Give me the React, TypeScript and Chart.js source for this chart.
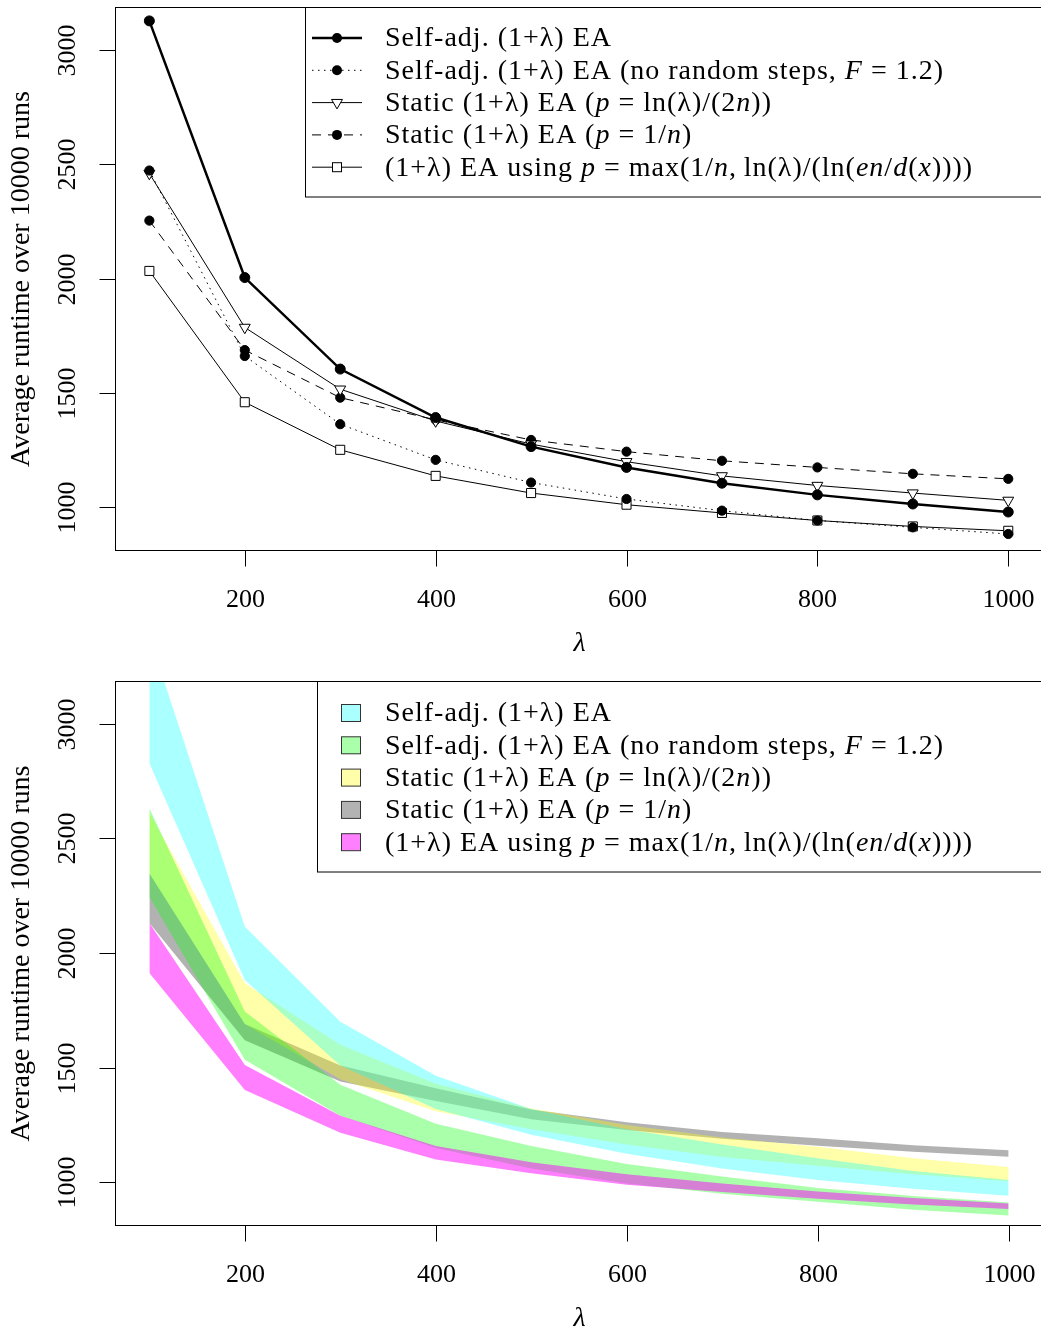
import React, { useEffect, useRef } from "react";
import { Chart, registerables } from "chart.js";
Chart.register(...registerables);

// ---------- data ----------
const lambdas = [100, 200, 300, 400, 500, 600, 700, 800, 900, 1000];

// top chart: averages
const selfAdj = [3127, 2005, 1605, 1393, 1266, 1175, 1106, 1055, 1015, 980];
const selfAdjNoRandom = [2473, 1662, 1364, 1208, 1109, 1037, 986, 943, 913, 884];
const staticLn = [2460, 1787, 1517, 1378, 1277, 1200, 1138, 1096, 1063, 1031];
const staticOneN = [2254, 1688, 1480, 1383, 1295, 1244, 1204, 1175, 1147, 1125];
const maxVariant = [2034, 1460, 1252, 1138, 1063, 1012, 976, 943, 917, 898];

// bottom chart: bands (lower / upper)
const selfAdjLo = [2827, 1882, 1510, 1320, 1208, 1125, 1060, 1010, 972, 942];
const selfAdjHi = [3380, 2114, 1700, 1465, 1320, 1232, 1165, 1105, 1050, 1010];
const noRandomLo = [2244, 1534, 1290, 1150, 1060, 995, 950, 915, 880, 855];
const noRandomHi = [2631, 1745, 1425, 1255, 1158, 1080, 1025, 975, 940, 912];
const staticLnLo = [2348, 1690, 1450, 1310, 1232, 1165, 1110, 1072, 1035, 1005];
const staticLnHi = [2610, 1868, 1600, 1430, 1322, 1250, 1195, 1155, 1105, 1067];
const staticOneNLo = [2131, 1620, 1440, 1355, 1275, 1228, 1190, 1160, 1133, 1112];
const staticOneNHi = [2348, 1690, 1510, 1410, 1318, 1262, 1220, 1192, 1162, 1140];
const maxVariantLo = [1913, 1403, 1216, 1100, 1040, 990, 958, 928, 903, 884];
const maxVariantHi = [2131, 1512, 1290, 1158, 1088, 1035, 995, 960, 932, 908];

const xTicks = [200, 400, 600, 800, 1000];
const yTicks = [1000, 1500, 2000, 2500, 3000];
const X_MIN = 64, X_MAX = 1036, Y_MIN = 814, Y_MAX = 3186;

const yTitle = "Average runtime over 10000 runs";
const xTitle = "λ";

type Seg = [string, boolean];
const legendLabels: Seg[][] = [
  [["Self-adj. (1+λ) EA", false]],
  [["Self-adj. (1+λ) EA (no random steps, ", false], ["F", true], [" = 1.2)", false]],
  [["Static (1+λ) EA (", false], ["p", true], [" = ln(λ)/(2", false], ["n", true], ["))", false]],
  [["Static (1+λ) EA (", false], ["p", true], [" = 1/", false], ["n", true], [")", false]],
  [["(1+λ) EA using ", false], ["p", true], [" = max(1/", false], ["n", true], [",\u2009ln(λ)/(ln(", false], ["en", true], ["/", false], ["d", true], ["(", false], ["x", true], ["))))", false]],
];

// legend order: self-adj, no-random, static ln, static 1/n, max
const bandColors = [
  "rgba(0,255,255,0.333)",
  "rgba(0,255,0,0.333)",
  "rgba(255,255,0,0.333)",
  "rgba(0,0,0,0.3)",
  "rgba(255,0,255,0.5)",
];
const bandLegendColors = ["#AAFFFF", "#AAFFAA", "#FFFFAA", "#B3B3B3", "#FF80FF"];
// painting order of the bands (first painted first)
const paintOrder = [3, 2, 1, 0, 4];

// ---------- styling ----------
const FAMILY = '"Liberation Serif", "Times New Roman", serif';
const TICK_FONT = `26px ${FAMILY}`;
const TEXT_FONT = `28px ${FAMILY}`;
const LEG_SIZE = 28;
const CW = 1050, CH = 675;
const PAD = { left: 115, top: 6, right: CW - 1043, bottom: CH - 550 };
const ROWS = [38, 70.3, 102.6, 134.9, 167.2];

const pts = (ys: number[]) => lambdas.map((x, i) => ({ x, y: ys[i] }));

function drawMarker(ctx: CanvasRenderingContext2D, kind: string, x: number, y: number) {
  ctx.save();
  ctx.setLineDash([]);
  ctx.lineWidth = 1;
  ctx.strokeStyle = "#000";
  if (kind === "circle") {
    ctx.fillStyle = "#000";
    ctx.beginPath(); ctx.arc(x, y, 5, 0, Math.PI * 2); ctx.fill();
  } else if (kind === "triangle") {
    const r = 6.3;
    ctx.fillStyle = "#fff";
    ctx.beginPath();
    ctx.moveTo(x - r * 0.866, y - r * 0.5);
    ctx.lineTo(x + r * 0.866, y - r * 0.5);
    ctx.lineTo(x, y + r);
    ctx.closePath(); ctx.fill(); ctx.stroke();
  } else if (kind === "rect") {
    ctx.fillStyle = "#fff";
    ctx.fillRect(x - 4.5, y - 4.5, 9, 9);
    ctx.strokeRect(x - 4.5, y - 4.5, 9, 9);
  }
  ctx.restore();
}

function drawSegs(ctx: CanvasRenderingContext2D, segs: Seg[], x: number, y: number) {
  let cx = x;
  (ctx as any).letterSpacing = "1px";
  for (const [t, it] of segs) {
    ctx.font = `${it ? "italic " : ""}${LEG_SIZE}px ${FAMILY}`;
    ctx.fillText(t, cx, y);
    cx += ctx.measureText(t).width;
  }
  (ctx as any).letterSpacing = "0px";
}

const lineLegend = [
  { width: 2.5, dash: [] as number[], marker: "circle" },
  { width: 1, dash: [1.5, 4.5], marker: "circle" },
  { width: 1, dash: [] as number[], marker: "triangle" },
  { width: 1, dash: [9, 7], marker: "circle" },
  { width: 1, dash: [] as number[], marker: "rect" },
];

const rDecor = {
  id: "rDecor",
  afterDraw(chart: any, _a: any, opts: any) {
    const { ctx, chartArea: ca } = chart;
    const xs = chart.scales.x, ys = chart.scales.y;
    ctx.save();
    ctx.setLineDash([]);
    ctx.strokeStyle = "#000";
    ctx.lineWidth = 1;
    const L = Math.round(ca.left) + 0.5, T = Math.round(ca.top) + 0.5;
    const R = Math.round(ca.right) + 0.5, B = Math.round(ca.bottom) + 0.5;
    ctx.strokeRect(L, T, R - L, B - T);
    ctx.fillStyle = "#000";
    ctx.font = TICK_FONT;
    ctx.textAlign = "center";
    ctx.textBaseline = "middle";
    for (const v of xTicks) {
      const px = Math.round(xs.getPixelForValue(v)) + 0.5;
      ctx.beginPath(); ctx.moveTo(px, B); ctx.lineTo(px, B + 16); ctx.stroke();
      ctx.fillText(String(v), px, B + 50);
    }
    for (const v of yTicks) {
      const py = Math.round(ys.getPixelForValue(v)) + 0.5;
      ctx.beginPath(); ctx.moveTo(L - 16, py); ctx.lineTo(L, py); ctx.stroke();
      ctx.save(); ctx.translate(L - 47, py); ctx.rotate(-Math.PI / 2); ctx.fillText(String(v), 0, 0); ctx.restore();
    }
    ctx.font = TEXT_FONT;
    ctx.save(); ctx.translate(22, (T + B) / 2); ctx.rotate(-Math.PI / 2); ctx.fillText(yTitle, 0, 0); ctx.restore();
    ctx.font = `italic ${TEXT_FONT}`;
    ctx.fillText(xTitle, (L + R) / 2, B + 93);

    // legend
    const lx = opts.legendX;
    ctx.fillStyle = "#fff";
    ctx.fillRect(lx + 0.5, T, CW - lx, 197 - T);
    ctx.strokeStyle = "#000";
    ctx.strokeRect(lx + 0.5, T, CW - lx + 10, 197 - T);
    ctx.textAlign = "left";
    ctx.textBaseline = "middle";
    ROWS.forEach((cy, i) => {
      if (opts.kind === "lines") {
        const st = lineLegend[i];
        ctx.save();
        ctx.strokeStyle = "#000";
        ctx.lineWidth = st.width;
        ctx.setLineDash(st.dash);
        ctx.beginPath(); ctx.moveTo(312, cy); ctx.lineTo(362, cy); ctx.stroke();
        ctx.restore();
        drawMarker(ctx, st.marker, 337, cy);
      } else {
        ctx.fillStyle = bandLegendColors[i];
        ctx.fillRect(341.5, cy - 8.5, 19, 17);
        ctx.strokeStyle = "#333";
        ctx.lineWidth = 1;
        ctx.strokeRect(341.5, cy - 8.5, 19, 17);
      }
      ctx.fillStyle = "#000";
      drawSegs(ctx, legendLabels[i], 385, cy + 1);
    });
    ctx.restore();
  },
};

const baseScales = {
  x: { type: "linear", min: X_MIN, max: X_MAX, display: false },
  y: { type: "linear", min: Y_MIN, max: Y_MAX, display: false },
};

function topConfig(): any {
  const mk = (data: number[], width: number, dash: number[], style: string, radius: number, fill: string) => ({
    data: pts(data),
    borderColor: "#000",
    borderWidth: width,
    borderDash: dash,
    pointStyle: style,
    pointRotation: style === "triangle" ? 180 : 0,
    pointRadius: radius,
    pointBackgroundColor: fill,
    pointBorderColor: "#000",
    pointBorderWidth: 1,
    fill: false,
    tension: 0,
  });
  return {
    type: "line",
    data: {
      datasets: [
        mk(selfAdj, 2.5, [], "circle", 5, "#000"),
        mk(selfAdjNoRandom, 1, [1.5, 4.5], "circle", 4.6, "#000"),
        mk(staticLn, 1, [], "triangle", 6.3, "#fff"),
        mk(staticOneN, 1, [9, 7], "circle", 4.6, "#000"),
        mk(maxVariant, 1, [], "rect", 6.4, "#fff"),
      ],
    },
    options: {
      animation: false,
      responsive: false,
      layout: { padding: PAD },
      scales: baseScales,
      plugins: { legend: { display: false }, tooltip: { enabled: false }, rDecor: { legendX: 305, kind: "lines" } },
    },
    plugins: [rDecor],
  };
}

function bottomConfig(): any {
  const series = [
    [selfAdjLo, selfAdjHi],
    [noRandomLo, noRandomHi],
    [staticLnLo, staticLnHi],
    [staticOneNLo, staticOneNHi],
    [maxVariantLo, maxVariantHi],
  ];
  const datasets: any[] = [];
  // Chart.js paints the last dataset index first, so push in reverse paint order
  for (let j = paintOrder.length - 1; j >= 0; j--) {
    const k = paintOrder[j];
    const [lo, hi] = series[k];
    datasets.push({ data: pts(lo), borderWidth: 0, borderColor: "rgba(0,0,0,0)", pointRadius: 0, fill: false, tension: 0 });
    datasets.push({ data: pts(hi), borderWidth: 0, borderColor: "rgba(0,0,0,0)", pointRadius: 0, fill: "-1", backgroundColor: bandColors[k], tension: 0 });
  }
  return {
    type: "line",
    data: { datasets },
    options: {
      animation: false,
      responsive: false,
      layout: { padding: PAD },
      scales: baseScales,
      plugins: { legend: { display: false }, tooltip: { enabled: false }, rDecor: { legendX: 317, kind: "bands" } },
    },
    plugins: [rDecor],
  };
}

function ChartCanvas({ make }: { make: () => any }) {
  const ref = useRef<HTMLCanvasElement>(null);
  useEffect(() => {
    const chart = new Chart(ref.current as HTMLCanvasElement, make());
    return () => chart.destroy();
  }, []);
  return <canvas ref={ref} width={CW} height={CH} style={{ display: "block", width: CW, height: CH }} />;
}

export default function App() {
  useEffect(() => {
    document.body.style.margin = "0";
    document.body.style.overflow = "hidden";
  }, []);
  return (
    <div style={{ width: 1041, height: 1332, overflow: "hidden", background: "#fff", position: "relative" }}>
      <ChartCanvas make={topConfig} />
      <ChartCanvas make={bottomConfig} />
    </div>
  );
}
